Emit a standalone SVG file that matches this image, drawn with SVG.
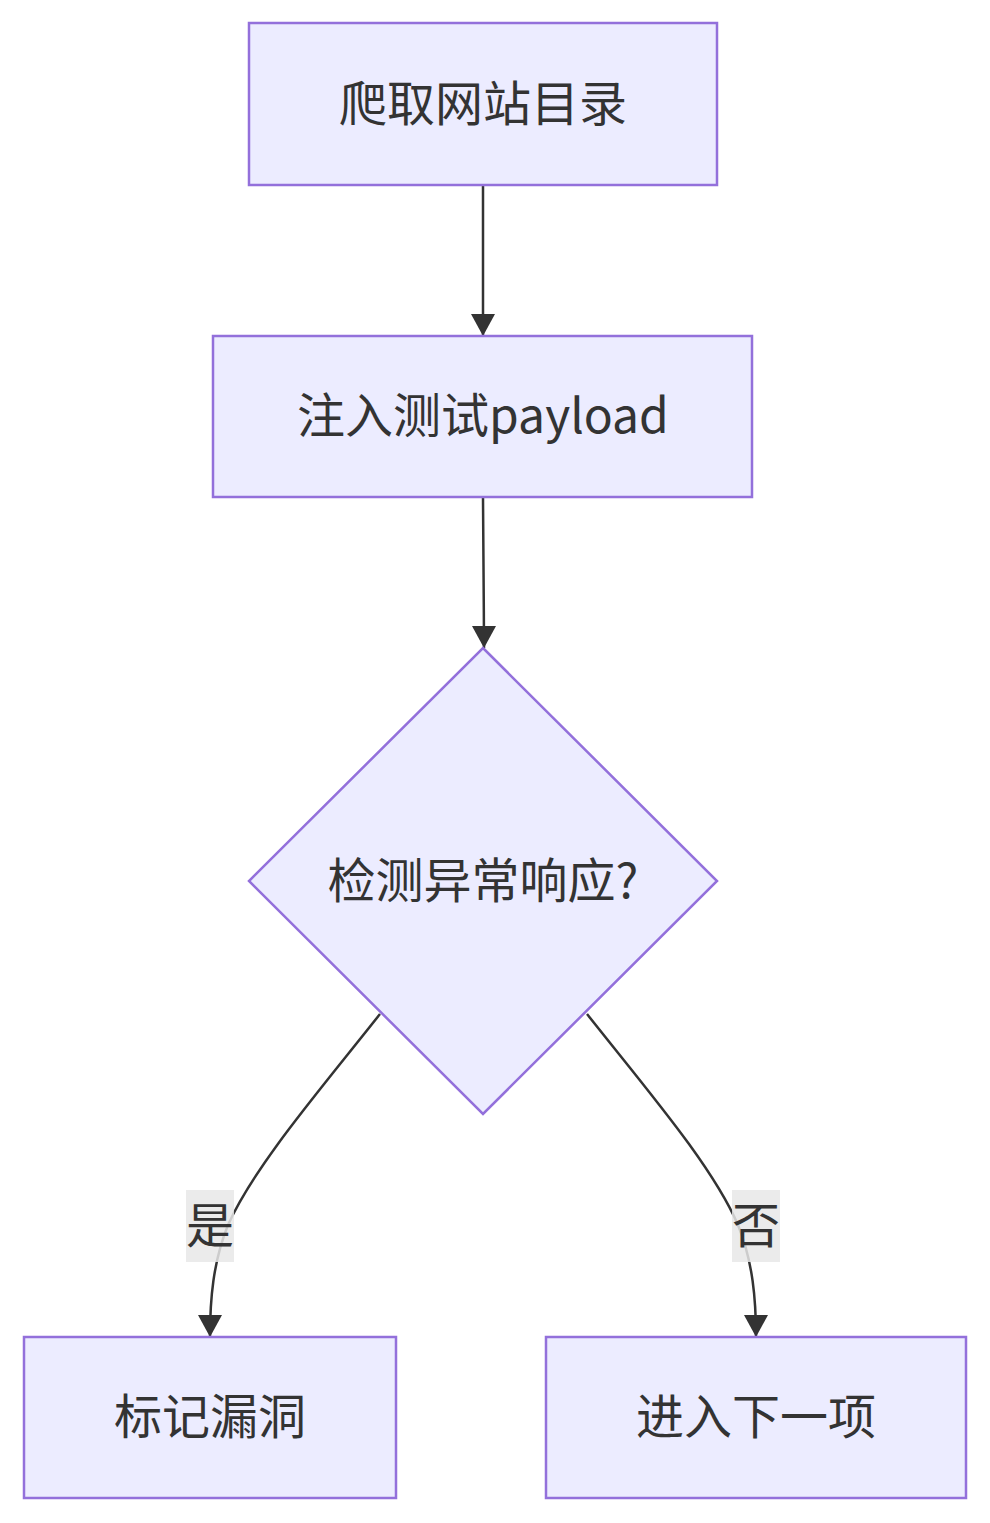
<svg xmlns="http://www.w3.org/2000/svg" width="990" height="1523" viewBox="0 0 990 1523">
<style>
.node{fill:#ECECFF;stroke:#9370DB;stroke-width:2.5}
.t{font-family:"Noto Sans CJK SC","Liberation Sans",sans-serif;font-size:48px;fill:#333;text-anchor:middle;dominant-baseline:central}
.e{fill:none;stroke:#333;stroke-width:2.5}
.lbg{fill:#e8e8e8;opacity:0.85}
</style>
<defs>
<marker id="arr" viewBox="0 0 24 24" refX="22" refY="12" markerWidth="24" markerHeight="24" markerUnits="userSpaceOnUse" orient="auto">
<path d="M0,0 L22,12 L0,24 z" fill="#333"/>
</marker>
</defs>
<g id="edges">
<path class="e" d="M483,186 L483,336" marker-end="url(#arr)"/>
<path class="e" d="M483,498 C483,560 484,600 484,648" marker-end="url(#arr)"/>
<path class="e" d="M380,1014 C320,1090 255,1165 228,1225 C213,1262 210,1300 210,1337" marker-end="url(#arr)"/>
<path class="e" d="M587,1014 C647,1090 712,1165 738,1225 C753,1262 756,1300 756,1337" marker-end="url(#arr)"/>
</g>
<g id="label-yes">
<rect class="lbg" x="186" y="1190" width="48" height="72"/>
<text class="t" x="210" y="1222">是</text>
</g>
<g id="label-no">
<rect class="lbg" x="732" y="1190" width="48" height="72"/>
<text class="t" x="756" y="1222">否</text>
</g>
<g id="n1">
<rect class="node" x="249" y="23" width="468" height="162"/>
<text class="t" x="483" y="100">爬取网站目录</text>
</g>
<g id="n2">
<rect class="node" x="213" y="336" width="539" height="161"/>
<text class="t" x="483" y="412">注入测试payload</text>
</g>
<g id="n3">
<polygon class="node" points="483,648 717,881 483,1114 249,881"/>
<text class="t" x="483" y="877">检测异常响应?</text>
</g>
<g id="n4">
<rect class="node" x="24" y="1337" width="372" height="161"/>
<text class="t" x="210" y="1413">标记漏洞</text>
</g>
<g id="n5">
<rect class="node" x="546" y="1337" width="420" height="161"/>
<text class="t" x="756" y="1413">进入下一项</text>
</g>
</svg>
